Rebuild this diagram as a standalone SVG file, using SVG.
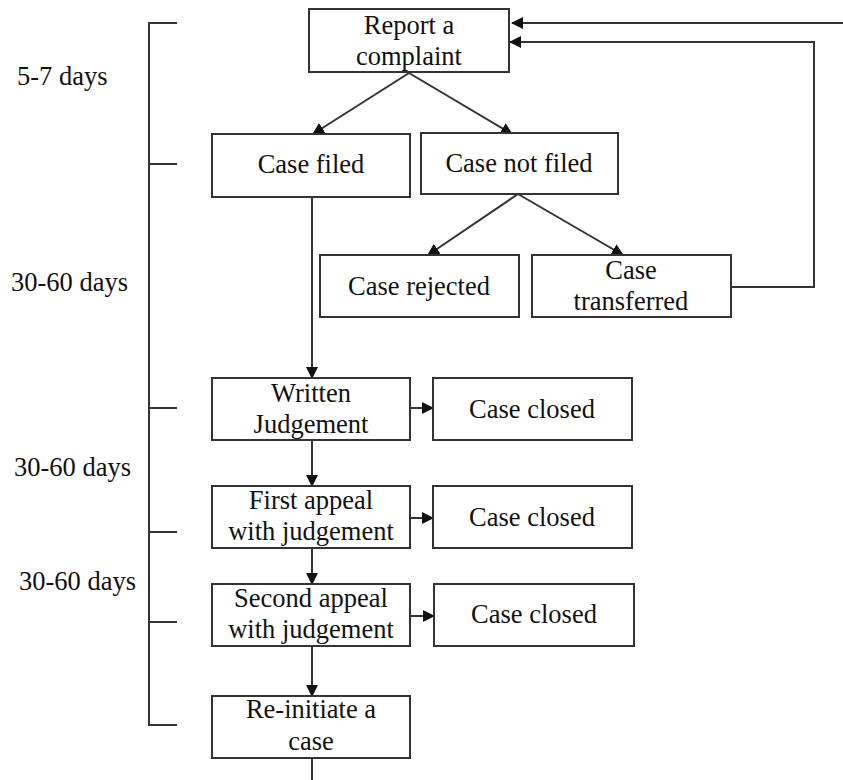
<svg xmlns="http://www.w3.org/2000/svg" width="843" height="780" viewBox="0 0 843 780">
<style>
.box{fill:#fff;stroke:#333;stroke-width:2}
.ln{fill:none;stroke:#333;stroke-width:2}
text{font-family:"Liberation Serif","Times New Roman",serif;font-size:26.5px;fill:#111}
.c{text-anchor:middle}
</style>
<defs>
<marker id="ah" markerWidth="12" markerHeight="12" viewBox="0 0 12 12" refX="11" refY="6" orient="auto" markerUnits="userSpaceOnUse">
<path d="M0,0 L12,6 L0,12 Z" fill="#111"/>
</marker>
</defs>
<rect width="843" height="780" fill="#fff"/>
<g id="timeline">
<path class="ln" d="M177,23 H149 V725 H177 M149,164 H177 M149,408 H177 M149,532 H177 M149,622 H177"/>
<text x="17" y="85">5-7 days</text>
<text x="11" y="291">30-60 days</text>
<text x="14" y="476">30-60 days</text>
<text x="19" y="590">30-60 days</text>
</g>
<g id="connectors">
<path class="ln" d="M409,73 L313,134" marker-end="url(#ah)"/>
<path class="ln" d="M409,73 L512,134" marker-end="url(#ah)"/>
<path class="ln" d="M518,194 L428,255" marker-end="url(#ah)"/>
<path class="ln" d="M518,194 L623,255" marker-end="url(#ah)"/>
<path class="ln" d="M312,197 V378" marker-end="url(#ah)"/>
<path class="ln" d="M731,287 H814 V42 H510" marker-end="url(#ah)"/>
<path class="ln" d="M843,23 H512" marker-end="url(#ah)"/>
<path class="ln" d="M410,408 H433" marker-end="url(#ah)"/>
<path class="ln" d="M410,518 H433" marker-end="url(#ah)"/>
<path class="ln" d="M410,616 H434" marker-end="url(#ah)"/>
<path class="ln" d="M312,440 V486" marker-end="url(#ah)"/>
<path class="ln" d="M312,548 V584" marker-end="url(#ah)"/>
<path class="ln" d="M312,646 V696" marker-end="url(#ah)"/>
<path class="ln" d="M312,758 V780"/>
</g>
<g id="report"><rect class="box" x="309" y="9" width="200" height="63"/><text class="c" x="409" y="34">Report a</text><text class="c" x="409" y="65">complaint</text></g>
<g id="filed"><rect class="box" x="212" y="134" width="198" height="63"/><text class="c" x="311" y="173">Case filed</text></g>
<g id="notfiled"><rect class="box" x="421" y="133" width="197" height="61"/><text class="c" x="519" y="172">Case not filed</text></g>
<g id="rejected"><rect class="box" x="320" y="255" width="199" height="62"/><text class="c" x="419" y="295">Case rejected</text></g>
<g id="transferred"><rect class="box" x="532" y="255" width="199" height="62"/><text class="c" x="631" y="279">Case</text><text class="c" x="631" y="310">transferred</text></g>
<g id="written"><rect class="box" x="212" y="378" width="198" height="62"/><text class="c" x="311" y="402">Written</text><text class="c" x="311" y="433">Judgement</text></g>
<g id="closed1"><rect class="box" x="433" y="378" width="199" height="62"/><text class="c" x="532" y="418">Case closed</text></g>
<g id="first"><rect class="box" x="212" y="486" width="198" height="62"/><text class="c" x="311" y="509">First appeal</text><text class="c" x="311" y="540">with judgement</text></g>
<g id="closed2"><rect class="box" x="433" y="486" width="199" height="62"/><text class="c" x="532" y="526">Case closed</text></g>
<g id="second"><rect class="box" x="212" y="584" width="198" height="62"/><text class="c" x="311" y="607">Second appeal</text><text class="c" x="311" y="638">with judgement</text></g>
<g id="closed3"><rect class="box" x="434" y="584" width="200" height="62"/><text class="c" x="534" y="623">Case closed</text></g>
<g id="reinit"><rect class="box" x="212" y="696" width="198" height="62"/><text class="c" x="311" y="718">Re-initiate a</text><text class="c" x="311" y="750">case</text></g>
</svg>
